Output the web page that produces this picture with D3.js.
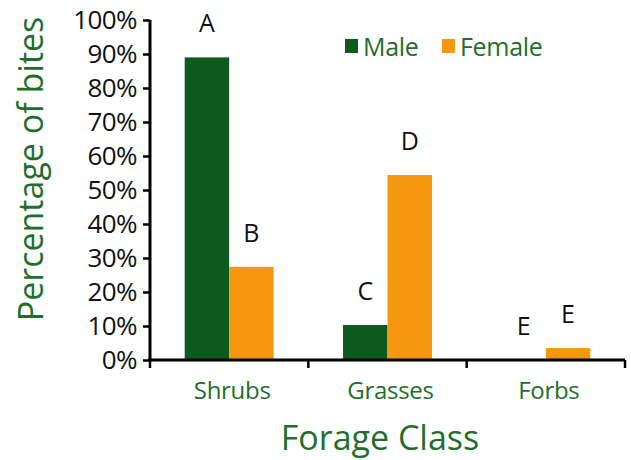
<!DOCTYPE html>
<html><head><meta charset="utf-8">
<script src="https://cdnjs.cloudflare.com/ajax/libs/d3/7.8.5/d3.min.js"></script>
<style>
html,body{margin:0;padding:0;background:#fff;}
svg{display:block;font-family:"Open Sans",sans-serif;}
</style></head>
<body>
<script>
const categories = ["Shrubs", "Grasses", "Forbs"];
const seriesNames = ["Male", "Female"];
const maleValues = [89, 10.3, 0];
const femaleValues = [27.4, 54.4, 3.5];
const maleLetters = ["A", "C", "E"];
const femaleLetters = ["B", "D", "E"];
const yTicks = [0, 10, 20, 30, 40, 50, 60, 70, 80, 90, 100];

const W = 631, H = 460;
const green = "#0c5a1d", orange = "#f4990f", textGreen = "#1f6e2b";
const m = {left: 150, right: 6, top: 20, bottom: 100};

const svg = d3.select("body").append("svg").attr("width", W).attr("height", H);

const x0 = d3.scaleBand().domain(categories).range([m.left, W - m.right]).paddingInner(0).paddingOuter(0);
const x1 = d3.scaleBand().domain(seriesNames).range([0, x0.bandwidth()]).paddingInner(0).paddingOuter(0.78);
const y = d3.scaleLinear().domain([0, 100]).range([H - m.bottom, m.top]);

const data = categories.map((c, i) => ({cat: c, vals: [
  {s: "Male", v: maleValues[i], l: maleLetters[i]},
  {s: "Female", v: femaleValues[i], l: femaleLetters[i]}]}));

const g = svg.append("g").selectAll("g").data(data).join("g")
  .attr("transform", d => `translate(${x0(d.cat)},0)`);
g.selectAll("rect").data(d => d.vals).join("rect")
  .attr("x", d => x1(d.s)).attr("width", x1.bandwidth())
  .attr("y", d => y(d.v)).attr("height", d => y(0) - y(d.v))
  .attr("fill", d => d.s === "Male" ? green : orange);
g.selectAll("text").data(d => d.vals).join("text")
  .attr("x", d => x1(d.s) + x1.bandwidth() / 2)
  .attr("y", d => y(d.v) - 25)
  .attr("text-anchor", "middle").attr("font-size", 25).attr("fill", "#111")
  .text(d => d.l);

// Y axis
const yAxis = svg.append("g").attr("transform", `translate(${m.left},0)`)
  .call(d3.axisLeft(y).tickValues(yTicks).tickFormat(d => d + "%").tickSize(7).tickPadding(6));
yAxis.select(".domain").attr("stroke", "#000").attr("stroke-width", 3).attr("d", `M0,${y(100)}V${y(0)}`);
yAxis.selectAll(".tick line").attr("stroke", "#000").attr("stroke-width", 2.5);
yAxis.selectAll(".tick text").attr("font-size", 26).attr("fill", "#111").attr("font-family", "Open Sans").attr("letter-spacing", -0.6);

// X axis
const xAxis = svg.append("g").attr("transform", `translate(0,${y(0)})`);
xAxis.append("line").attr("x1", m.left - 2).attr("x2", W - m.right).attr("y1", 0).attr("y2", 0)
  .attr("stroke", "#000").attr("stroke-width", 3);
const bounds = categories.map(c => x0(c)).concat([x0(categories[2]) + x0.bandwidth()]);
xAxis.selectAll("line.tk").data(bounds).join("line").attr("class", "tk")
  .attr("x1", d => d).attr("x2", d => d).attr("y1", 0).attr("y2", 8)
  .attr("stroke", "#000").attr("stroke-width", 2.5);
xAxis.selectAll("text").data(categories).join("text")
  .attr("x", d => x0(d) + x0.bandwidth() / 2 + 3).attr("y", 39)
  .attr("text-anchor", "middle").attr("font-size", 24).attr("fill", textGreen).attr("letter-spacing", -0.3)
  .text(d => d);

// Axis titles
svg.append("text").attr("x", 380).attr("y", 450).attr("text-anchor", "middle")
  .attr("font-size", 34).attr("fill", textGreen).text("Forage Class");
svg.append("text").attr("transform", "translate(43,169) rotate(-90)").attr("text-anchor", "middle")
  .attr("font-size", 34).attr("fill", textGreen).text("Percentage of bites");

// Legend
const legend = svg.append("g").selectAll("g").data(seriesNames).join("g")
  .attr("transform", (d, i) => `translate(${i ? 442 : 345},39)`);
legend.append("rect").attr("width", 13).attr("height", 14).attr("fill", d => d === "Male" ? green : orange);
legend.append("text").attr("x", 18).attr("y", 17).attr("font-size", 25).attr("fill", textGreen)
  .attr("letter-spacing", -0.3).text(d => d);
</script>
</body></html>
